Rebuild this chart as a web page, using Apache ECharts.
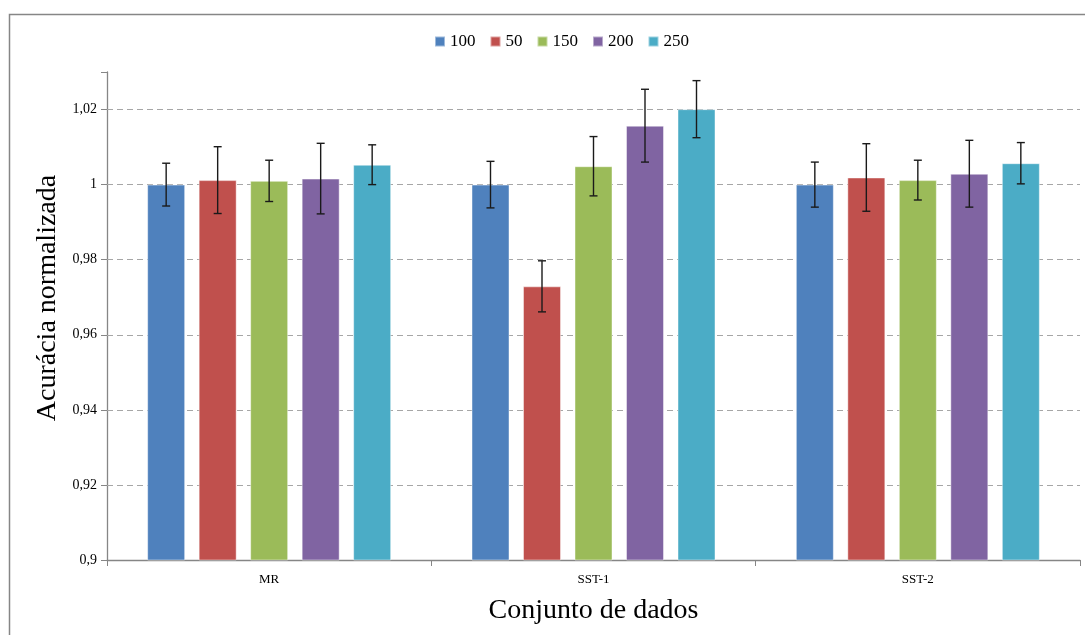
<!DOCTYPE html>
<html>
<head>
<meta charset="utf-8">
<script src="https://cdn.jsdelivr.net/npm/echarts@6/dist/echarts.min.js"></script>
<style>
html,body{margin:0;padding:0;background:#fff;overflow:hidden;}
#c{width:1085px;height:635px;}
</style>
</head>
<body>
<div id="c"></div>
<script>
// ---- data ----
const categories = ['MR', 'SST-1', 'SST-2'];
const seriesNames = ['100', '50', '150', '200', '250'];
const values100 = [1.0000, 1.0000, 1.0000];
const values50  = [1.0012, 0.9729, 1.0019];
const values150 = [1.0010, 1.0049, 1.0012];
const values200 = [1.0016, 1.0157, 1.0029];
const values250 = [1.0053, 1.0201, 1.0057];
const err100 = [0.0057, 0.0062, 0.0060];
const err50  = [0.0089, 0.0068, 0.0090];
const err150 = [0.0055, 0.0079, 0.0053];
const err200 = [0.0094, 0.0097, 0.0089];
const err250 = [0.0053, 0.0076, 0.0055];
const gridTicks = [0.92, 0.94, 0.96, 0.98, 1.00, 1.02];

const allValues = [values100, values50, values150, values200, values250];
const allErrors = [err100, err50, err150, err200, err250];
const colors = ['#4F81BD', '#C0504D', '#9BBB59', '#8064A2', '#4BACC6'];

const BAR_W = 38, BAR_GAP = 13.5;
const serif = '"Liberation Serif","DejaVu Serif",serif';

const chart = echarts.init(document.getElementById('c'));

const series = [];
seriesNames.forEach((name, i) => {
  series.push({
    name: name,
    type: 'bar',
    data: allValues[i],
    barWidth: BAR_W,
    barGap: (BAR_GAP / BAR_W * 100) + '%',
    itemStyle: { color: colors[i], borderColor: 'rgba(255,255,255,0.45)', borderWidth: 1 },
    emphasis: { disabled: true },
    z: 2,
    markLine: i === 0 ? {
      silent: true,
      symbol: ['none', 'none'],
      label: { show: false },
      lineStyle: { color: '#A6A6A6', type: [6, 4], width: 1.2 },
      data: gridTicks.map(v => ({ yAxis: v })),
      z: 1
    } : undefined
  });
});

// error bars
const n = seriesNames.length;
seriesNames.forEach((name, i) => {
  const errData = categories.map((c, k) => [k, allValues[i][k], allErrors[i][k]]);
  series.push({
    type: 'custom',
    name: name + '_err',
    z: 5,
    silent: true,
    renderItem: function (params, api) {
      const k = api.value(0), v = api.value(1), e = api.value(2);
      const offset = (i - (n - 1) / 2) * (BAR_W + BAR_GAP);
      const top = api.coord([k, v + e]);
      const bot = api.coord([k, v - e]);
      const x = top[0] + offset;
      const cap = 4;
      const style = { stroke: '#1a1a1a', lineWidth: 1.4 };
      return {
        type: 'group',
        children: [
          { type: 'line', shape: { x1: x, y1: top[1], x2: x, y2: bot[1] }, style: style },
          { type: 'line', shape: { x1: x - cap, y1: top[1], x2: x + cap, y2: top[1] }, style: style },
          { type: 'line', shape: { x1: x - cap, y1: bot[1], x2: x + cap, y2: bot[1] }, style: style }
        ]
      };
    },
    encode: { x: 0, y: 1 },
    data: errData
  });
});

chart.setOption({
  animation: false,
  backgroundColor: '#fff',
  color: colors,
  graphic: [{
    type: 'polyline',
    shape: { points: [[9.5, 640], [9.5, 14.5], [1090, 14.5]] },
    style: { stroke: '#868686', lineWidth: 1.5, fill: null },
    silent: true
  }],
  legend: {
    data: seriesNames,
    top: 28,
    left: 429,
    itemWidth: 10,
    itemHeight: 10,
    itemGap: 14,
    icon: 'rect',
    textStyle: { fontFamily: serif, fontSize: 17, color: '#000' }
  },
  grid: { left: 107, right: 5, top: 72, bottom: 75, containLabel: false },
  xAxis: {
    type: 'category',
    data: categories,
    boundaryGap: true,
    name: 'Conjunto de dados',
    nameLocation: 'middle',
    nameGap: 37,
    nameTextStyle: { fontFamily: serif, fontSize: 28, color: '#000' },
    axisLine: { lineStyle: { color: '#868686', width: 1.3 } },
    axisTick: { show: true, alignWithLabel: false, length: 6, lineStyle: { color: '#868686' } },
    axisLabel: { fontFamily: serif, fontSize: 13, color: '#000', margin: 13 }
  },
  yAxis: {
    type: 'value',
    min: 0.9,
    max: 1.03,
    interval: 0.02,
    name: 'Acurácia normalizada',
    nameLocation: 'middle',
    nameGap: 45,
    nameRotate: 90,
    nameTextStyle: { fontFamily: serif, fontSize: 28, color: '#000', padding: [0, 0, 0, 36] },
    axisLine: { show: true, lineStyle: { color: '#868686', width: 1.3 } },
    axisTick: { show: true, length: 6, lineStyle: { color: '#868686' } },
    splitLine: { show: false },
    axisLabel: {
      fontFamily: serif, fontSize: 14, color: '#000', margin: 10,
      formatter: function (v) {
        if (v > 1.025) return '';
        const r = Math.round(v * 100) / 100;
        return String(r).replace('.', ',');
      }
    }
  },
  series: series
});
</script>
</body>
</html>
